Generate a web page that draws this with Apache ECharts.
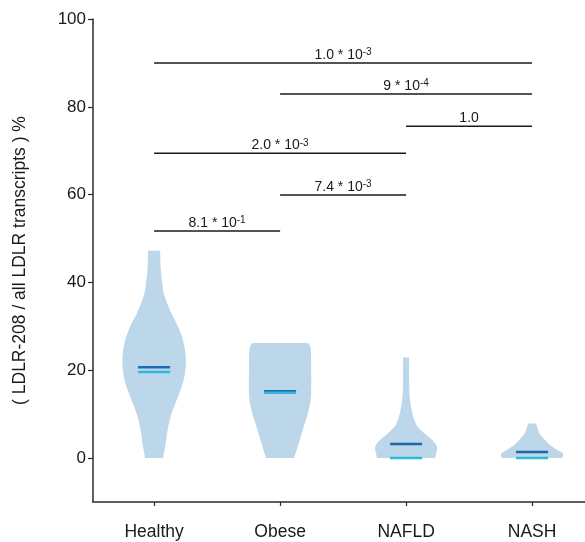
<!DOCTYPE html>
<html><head><meta charset="utf-8">
<script src="https://cdn.jsdelivr.net/npm/echarts@6/dist/echarts.min.js"></script>
<style>html,body{margin:0;padding:0;background:#fff}#c{width:585px;height:542px}</style>
</head><body><div id="c"></div>
<script>
const categories = ['Healthy', 'Obese', 'NAFLD', 'NASH'];
const yTicks = [0, 20, 40, 60, 80, 100];
// violin outlines: [value, half width in category units]
const healthyShape = [[0,.071],[3,.09],[7,.111],[10.7,.145],[14.4,.196],[18.2,.238],[22,.252],[25.8,.238],[29.6,.196],[33.4,.13],[37.2,.08],[40,.064],[43,.053],[47.2,.048]];
const obeseShape = [[0,.111],[3.1,.145],[6.9,.185],[10.7,.225],[14.4,.246],[22,.246],[25,.242],[26.2,.222]];
const nafldShape = [[0,.23],[1,.238],[2.5,.246],[4,.212],[5.5,.151],[7.7,.079],[11.5,.04],[15.3,.026],[19,.024],[22.9,.024]];
const nashShape = [[0,.24],[1,.246],[1.6,.215],[2.8,.151],[3.9,.111],[5.5,.062],[7,.04],[7.9,.033]];
const meanValues = [20.7, 15.2, 3.2, 1.4];
const medianValues = [19.6, 14.9, 0, 0];
const bracketFrom = [1, 2, 3, 1, 2, 1];
const bracketTo = [4, 4, 4, 3, 3, 2];
const bracketY = [90.0, 82.9, 75.6, 69.4, 59.9, 51.7];
const bracketMantissa = ['1.0', '9', '1.0', '2.0', '7.4', '8.1'];
const bracketExponent = ['-3', '-4', '', '-3', '-3', '-1'];

const shapes = [healthyShape, obeseShape, nafldShape, nashShape];
const FONT = 'Liberation Sans, Arial, Helvetica, sans-serif';
const LINE_HALF = 0.127;

function catmull(pts) {
  let d = '';
  for (let i = 0; i < pts.length - 1; i++) {
    const p0 = pts[i - 1] || pts[i], p1 = pts[i], p2 = pts[i + 1], p3 = pts[i + 2] || pts[i + 1];
    const c1 = [p1[0] + (p2[0] - p0[0]) / 6, p1[1] + (p2[1] - p0[1]) / 6];
    const c2 = [p2[0] - (p3[0] - p1[0]) / 6, p2[1] - (p3[1] - p1[1]) / 6];
    d += ' C' + c1[0] + ',' + c1[1] + ' ' + c2[0] + ',' + c2[1] + ' ' + p2[0] + ',' + p2[1];
  }
  return d;
}

const chart = echarts.init(document.getElementById('c'), null, {renderer: 'canvas'});
chart.setOption({
  animation: false,
  grid: {left: 93, right: 0, top: 19, bottom: 40},
  xAxis: {
    type: 'value', min: 0.515, max: 4.42,
    axisLine: {show: true, onZero: false, lineStyle: {color: '#2b2b2b', width: 1.5}},
    axisTick: {show: true, length: 4, customValues: [1, 2, 3, 4], lineStyle: {color: '#2b2b2b', width: 1.2}},
    axisLabel: {customValues: [1, 2, 3, 4], formatter: v => categories[Math.round(v) - 1], margin: 21,
      fontSize: 17.5, color: '#1a1a1a', fontFamily: FONT},
    splitLine: {show: false}
  },
  yAxis: {
    type: 'value', min: -10, max: 100,
    name: '( LDLR-208 / all LDLR transcripts ) %', nameLocation: 'middle', nameGap: 64,
    nameTextStyle: {fontSize: 17.5, color: '#1a1a1a', fontFamily: FONT},
    axisLine: {show: true, onZero: false, lineStyle: {color: '#2b2b2b', width: 1.5}},
    axisTick: {show: true, length: 5, customValues: yTicks, lineStyle: {color: '#2b2b2b', width: 1.2}},
    axisLabel: {customValues: yTicks, margin: 7, fontSize: 17, color: '#1a1a1a', fontFamily: FONT},
    splitLine: {show: false}
  },
  series: [
    {
      type: 'custom', silent: true, clip: false,
      data: categories.map((c, i) => [i + 1, 0]),
      renderItem: function (params, api) {
        const cx = api.value(0);
        const sh = shapes[params.dataIndex];
        const left = sh.map(p => api.coord([cx - p[1], p[0]]));
        const right = sh.slice().reverse().map(p => api.coord([cx + p[1], p[0]]));
        let d = 'M' + left[0][0] + ',' + left[0][1] + catmull(left);
        d += ' L' + right[0][0] + ',' + right[0][1] + catmull(right) + ' Z';
        return {type: 'path', shape: {pathData: d}, style: {fill: '#bcd6ea', stroke: null}};
      }
    },
    {
      type: 'custom', silent: true, clip: false,
      data: meanValues.map((v, i) => [i + 1, v]),
      renderItem: function (params, api) {
        const a = api.coord([api.value(0) - LINE_HALF, api.value(1)]);
        const b = api.coord([api.value(0) + LINE_HALF, api.value(1)]);
        return {type: 'line', shape: {x1: a[0], y1: a[1], x2: b[0], y2: b[1]}, style: {stroke: '#1f68ad', lineWidth: 2.5}};
      }
    },
    {
      type: 'custom', silent: true, clip: false,
      data: medianValues.map((v, i) => [i + 1, v]),
      renderItem: function (params, api) {
        const a = api.coord([api.value(0) - LINE_HALF, api.value(1)]);
        const b = api.coord([api.value(0) + LINE_HALF, api.value(1)]);
        return {type: 'line', shape: {x1: a[0], y1: a[1], x2: b[0], y2: b[1]}, style: {stroke: '#2fbad9', lineWidth: 2.5}};
      }
    },
    {
      type: 'custom', silent: true, clip: false,
      data: bracketY.map((y, i) => [bracketFrom[i], bracketTo[i], y]),
      renderItem: function (params, api) {
        const i = params.dataIndex;
        const a = api.coord([api.value(0), api.value(2)]);
        const b = api.coord([api.value(1), api.value(2)]);
        const exp = bracketExponent[i];
        const txt = exp ? bracketMantissa[i] + ' * 10{sup|' + exp + '}' : bracketMantissa[i];
        return {type: 'group', children: [
          {type: 'line', shape: {x1: a[0], y1: a[1], x2: b[0], y2: b[1]}, style: {stroke: '#1a1a1a', lineWidth: 1.5}},
          {type: 'text', x: (a[0] + b[0]) / 2, y: a[1] - 0.5, style: {
            text: txt, fontSize: 14, lineHeight: 15, fontFamily: FONT, fill: '#1a1a1a',
            align: 'center', verticalAlign: 'bottom',
            rich: {sup: {fontSize: 10, lineHeight: 10, verticalAlign: 'top', fontFamily: FONT, fill: '#1a1a1a'}}
          }}
        ]};
      }
    }
  ]
});
</script></body></html>
